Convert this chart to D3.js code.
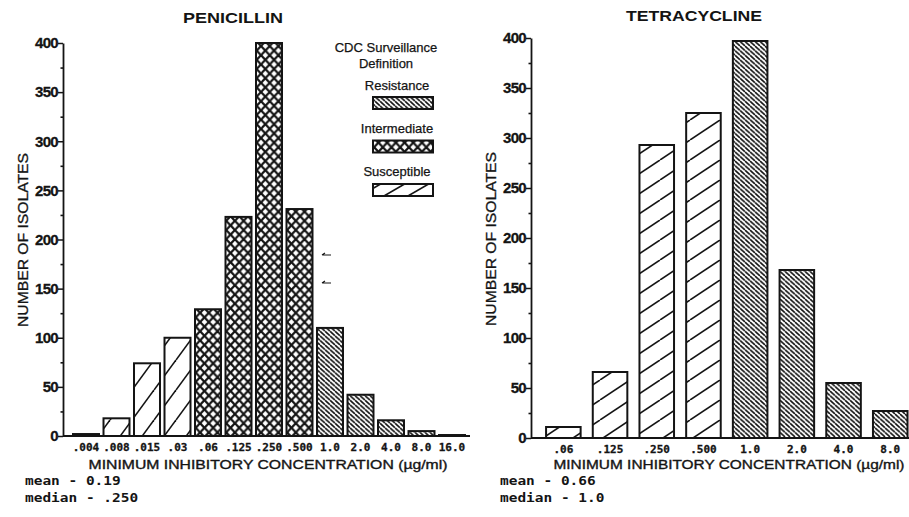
<!DOCTYPE html>
<html><head><meta charset="utf-8">
<script src="https://cdn.jsdelivr.net/npm/d3@7"></script>
<style>body{margin:0;background:#fff}svg{display:block}</style>
</head><body><svg id="c" width="909" height="517"></svg>
<script>
const penCategories = [".004",".008",".015",".03",".06",".125",".250",".500","1.0","2.0","4.0","8.0","16.0"];
const penValues = [2,18,74,100,129,223,400,231,110,42,16,5,1];
const penClass = ["S","S","S","S","I","I","I","I","R","R","R","R","R"];
const tetCategories = [".06",".125",".250",".500","1.0","2.0","4.0","8.0"];
const tetValues = [11,66,293,325,397,168,55,27];
const tetClass = ["S","S","S","S","R","R","R","R"];
const yTicks = [0,50,100,150,200,250,300,350,400];
const yMinorTicks = [25,75,125,175,225,275,325,375];
const legendTitle = ["CDC Surveillance","Definition"];
const legendLabels = ["Resistance","Intermediate","Susceptible"];
const legendClass = ["R","I","S"];
const penStats = ["mean - 0.19","median - .250"];
const tetStats = ["mean - 0.66","median - 1.0"];
const xTitle = "MINIMUM INHIBITORY CONCENTRATION (\u00b5g/ml)";
const yTitle = "NUMBER OF ISOLATES";

const svg = d3.select("#c");
svg.append("rect").attr("width",909).attr("height",517).attr("fill","#fff");
const defs = svg.append("defs");
const INK = "#141414";
const SANS = "Liberation Sans, Arial, sans-serif";
const MONO = "DejaVu Sans Mono, monospace";

function linePattern(id, w, h, dir, sw){
  const p = defs.append("pattern").attr("id",id).attr("patternUnits","userSpaceOnUse")
    .attr("width",w).attr("height",h);
  p.append("rect").attr("width",w).attr("height",h).attr("fill","#fff");
  const segs = dir === "f"
    ? [[0,h,w,0],[-w,h,0,0],[w,h,2*w,0]]
    : [[0,0,w,h],[-w,0,0,h],[w,0,2*w,h]];
  segs.forEach(s=>p.append("line").attr("x1",s[0]).attr("y1",s[1]).attr("x2",s[2]).attr("y2",s[3])
    .attr("stroke",INK).attr("stroke-width",sw));
}
function crossPattern(id, w, h, sw){
  const p = defs.append("pattern").attr("id",id).attr("patternUnits","userSpaceOnUse")
    .attr("width",w).attr("height",h);
  p.append("rect").attr("width",w).attr("height",h).attr("fill","#fff");
  [[0,0,w,h],[0,h,w,0],[-w,0,0,h],[w,0,2*w,h],[-w,h,0,0],[w,h,2*w,0]].forEach(s=>
    p.append("line").attr("x1",s[0]).attr("y1",s[1]).attr("x2",s[2]).attr("y2",s[3])
     .attr("stroke",INK).attr("stroke-width",sw));
}
linePattern("penS", 22, 30, "f", 1.6);
linePattern("tetS", 30, 20, "f", 1.6);
linePattern("penR", 5, 4.6, "b", 1.6);
linePattern("tetR", 5, 4.6, "b", 1.6);
crossPattern("penI", 8.7, 9.2, 2.2);
linePattern("legS", 24, 14, "f", 1.6);

function panel(o){
  const x = d3.scaleBand().domain(o.cats).range(o.xr).paddingInner(o.pad).paddingOuter(o.pad/2);
  const y = d3.scaleLinear().domain([0,400]).range(o.yr);
  const g = svg.append("g");
  g.selectAll("rect.bar").data(o.vals).join("rect").attr("class","bar")
    .attr("x",(d,i)=>x(o.cats[i])).attr("width",x.bandwidth())
    .attr("y",d=>y(d)).attr("height",d=>y(0)-y(d))
    .attr("fill",(d,i)=>`url(#${o.prefix}${o.cls[i]})`)
    .attr("stroke",INK).attr("stroke-width",2);
  const ya = g.append("g").attr("transform",`translate(${o.ax},0)`)
    .call(d3.axisLeft(y).tickValues(yTicks).tickSize(5).tickSizeOuter(0).tickPadding(0).tickFormat(d3.format("d")));
  ya.select(".domain").attr("stroke",INK).attr("stroke-width",1.8);
  ya.selectAll(".tick line").attr("stroke",INK).attr("stroke-width",1.5);
  ya.selectAll(".tick text").attr("font-family",SANS)
    .attr("font-weight","bold").attr("font-size",15).attr("letter-spacing","-0.7")
    .attr("stroke",INK).attr("stroke-width",0.3).attr("fill",INK);
  const ym = g.append("g").attr("transform",`translate(${o.ax},0)`)
    .call(d3.axisLeft(y).tickValues(yMinorTicks).tickSize(2.5).tickSizeOuter(0).tickFormat(""));
  ym.select(".domain").remove();
  ym.selectAll(".tick line").attr("stroke",INK).attr("stroke-width",1.6);
  g.append("line").attr("x1",o.ax).attr("x2",o.xend).attr("y1",y(0)).attr("y2",y(0))
    .attr("stroke",INK).attr("stroke-width",2);
  const xa = g.append("g").attr("transform",`translate(0,${y(0)})`)
    .call(d3.axisBottom(x).tickSize(0).tickPadding(7));
  xa.select(".domain").remove();
  xa.selectAll(".tick text").attr("font-family",MONO)
    .attr("font-weight","bold").attr("font-size",11).attr("fill",INK)
    .attr("stroke",INK).attr("stroke-width",0.3);
  g.append("text").attr("x",o.tx).attr("y",o.ty).attr("text-anchor","middle")
    .attr("font-family",SANS).attr("font-weight","bold")
    .attr("font-size",15).attr("textLength",o.tw).attr("lengthAdjust","spacingAndGlyphs")
    .attr("fill",INK).text(o.title);
  g.append("text").attr("x",o.xtx).attr("y",469).attr("text-anchor","middle")
    .attr("font-family",SANS).attr("font-size",12.5)
    .attr("textLength",o.xtw).attr("lengthAdjust","spacingAndGlyphs")
    .attr("stroke",INK).attr("stroke-width",0.35)
    .attr("fill",INK).text(xTitle);
  g.append("text").attr("transform",`translate(${o.ytx},${o.yty}) rotate(-90)`)
    .attr("text-anchor","middle").attr("font-family",SANS)
    .attr("font-size",15).attr("textLength",174).attr("lengthAdjust","spacingAndGlyphs")
    .attr("stroke",INK).attr("stroke-width",0.3)
    .attr("fill",INK).text(yTitle);
  g.selectAll("text.stat").data(o.stats).join("text").attr("class","stat")
    .attr("x",o.sx).attr("y",(d,i)=>485+i*17)
    .attr("font-family",MONO).attr("font-weight","bold")
    .attr("font-size",12).attr("textLength",d=>d.length*8.7).attr("lengthAdjust","spacingAndGlyphs")
    .attr("fill",INK).text(d=>d);
  return {x,y,g};
}

panel({cats:penCategories, vals:penValues, cls:penClass, prefix:"pen",
  xr:[70.75,467.25], pad:0.148, yr:[436,43], ax:63, xend:470,
  title:"PENICILLIN", tx:233, ty:23, tw:100, xtx:268, xtw:359, ytx:28, yty:240,
  stats:penStats, sx:25});
panel({cats:tetCategories, vals:tetValues, cls:tetClass, prefix:"tet",
  xr:[540,913.6], pad:0.26, yr:[438,38], ax:531, xend:909,
  title:"TETRACYCLINE", tx:694, ty:21, tw:136, xtx:729, xtw:351, ytx:496, yty:239,
  stats:tetStats, sx:500});

const lg = svg.append("g");
lg.selectAll("text.lt").data(legendTitle).join("text").attr("class","lt")
  .attr("x",386).attr("y",(d,i)=>52+i*16).attr("text-anchor","middle")
  .attr("font-family",SANS).attr("font-size",13)
  .attr("stroke",INK).attr("stroke-width",0.25)
  .attr("fill",INK).text(d=>d);
lg.selectAll("text.ll").data(legendLabels).join("text").attr("class","ll")
  .attr("x",397).attr("y",(d,i)=>90+i*43).attr("text-anchor","middle")
  .attr("font-family",SANS).attr("font-size",13)
  .attr("stroke",INK).attr("stroke-width",0.25)
  .attr("fill",INK).text(d=>d);
const legFill = {R:"url(#penR)", I:"url(#penI)", S:"url(#legS)"};
lg.selectAll("rect.sw").data(legendClass).join("rect").attr("class","sw")
  .attr("x",373).attr("y",(d,i)=>97+i*43.5).attr("width",60).attr("height",12)
  .attr("fill",d=>legFill[d]).attr("stroke",INK).attr("stroke-width",2);

[255,283].forEach(yy=>{
  svg.append("path").attr("d",`M322,${yy} L331,${yy} M322,${yy} L325,${yy-2}`)
    .attr("stroke",INK).attr("stroke-width",1.2).attr("fill","none");
});
</script></body></html>
